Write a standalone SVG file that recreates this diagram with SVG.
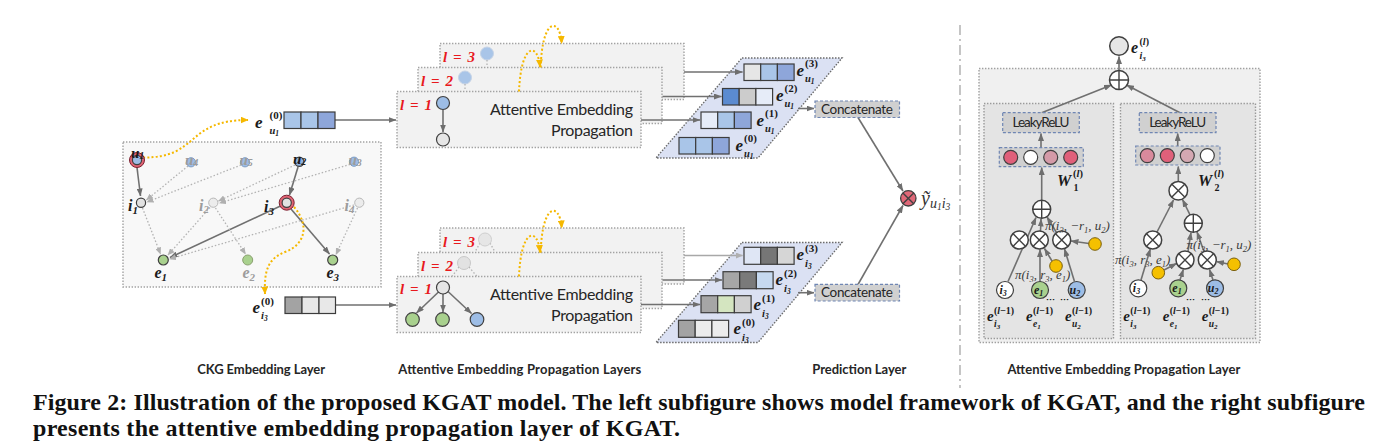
<svg xmlns="http://www.w3.org/2000/svg" width="1379" height="447" viewBox="0 0 1379 447">
<defs>
<style>
.bx{fill:#f2f2f2;stroke:#a3a3a3;stroke-width:1.4;stroke-dasharray:1.4 1.6}
.ckb{fill:#f8f8f8;stroke:#a3a3a3;stroke-width:1.4;stroke-dasharray:1.4 1.6}
.pg{fill:#dbe1f3;stroke:#6b6b6b;stroke-width:1.4;stroke-dasharray:1.5 1.5}
.ob{fill:#f0f0f0;stroke:#a0a0a0;stroke-width:1.4;stroke-dasharray:1.4 1.6}
.ib{fill:#e4e4e4;stroke:#9a9a9a;stroke-width:1.4;stroke-dasharray:1.4 1.6}
.cat{fill:#d0d0d0;stroke:#6f86b3;stroke-width:1.2;stroke-dasharray:3 2}
.ln{fill:none;stroke:#707070;stroke-width:1.6}
.lt{fill:none;stroke:#a8a8a8;stroke-width:1.4}
.dl{fill:none;stroke:#b3b3b3;stroke-width:1.3;stroke-dasharray:1.5 2}
.yl{fill:none;stroke:#f5b800;stroke-width:2;stroke-dasharray:2 2.2}
.c{stroke:#3c3c3c;stroke-width:1.2}
.nd{stroke:#404040;stroke-width:1.2}
.op{fill:#fff;stroke:#404040;stroke-width:1.5}
.x{fill:none;stroke:#404040;stroke-width:1.4}
.sans{font-family:Lato,"Liberation Sans",sans-serif;fill:#262626}
.m{font-family:"Liberation Serif","DejaVu Serif",serif;font-weight:bold;font-style:italic;fill:#1a1a1a}
.g{fill:#9c9c9c}
.up{font-style:normal}
.red{fill:#e8191d}
.pi{font-family:"Liberation Serif","DejaVu Serif",serif;font-style:italic;fill:#3a3a3a;font-size:13px}
.cap{font-family:"Liberation Serif","DejaVu Serif",serif;font-weight:bold;font-size:24px;fill:#111}
.lab{font-family:Lato,"Liberation Sans",sans-serif;font-weight:bold;font-size:13px;fill:#262626}
</style>
<marker id="ag" markerWidth="8" markerHeight="6" refX="7.5" refY="3" orient="auto" markerUnits="userSpaceOnUse"><path d="M0,0 L8,3 L0,6 z" fill="#6e6e6e"/></marker>
<marker id="al" markerWidth="7" markerHeight="6" refX="6.5" refY="3" orient="auto" markerUnits="userSpaceOnUse"><path d="M0,0 L7,3 L0,6 z" fill="#b0b0b0"/></marker>
<marker id="ay" markerWidth="8" markerHeight="7" refX="7.5" refY="3.5" orient="auto" markerUnits="userSpaceOnUse"><path d="M0,0 L8,3.5 L0,7 z" fill="#f5b800"/></marker>
</defs>
<rect width="1379" height="447" fill="#ffffff"/>

<!-- background panels -->
<g id="ckg-panel"><rect class="ckb" x="123" y="142" width="258" height="145"/></g>

<g id="prop-u-l3">
<rect class="bx" x="440" y="43.5" width="244" height="56"/>
<text class="m red" x="443" y="62" font-size="15" textLength="32">l = 3</text>
<circle cx="487" cy="53.5" r="6.5" fill="#a9c5e8" stroke="#c5d3e6"/>
<path d="M487,60 L487,67" class="dl"/>
</g>
<g id="prop-u-l2">
<rect class="bx" x="418" y="67.5" width="244" height="56"/>
<text class="m red" x="421" y="85.5" font-size="15" textLength="32">l = 2</text>
<circle cx="465" cy="77.5" r="6.5" fill="#a9c5e8" stroke="#c5d3e6"/>
<path d="M465,84 L465,91" class="dl"/>
</g>
<g id="prop-u-l1">
<rect class="bx" x="397" y="91.5" width="244" height="56"/>
<text class="m red" x="400" y="109.5" font-size="15" textLength="32">l = 1</text>
<path d="M443,109.5 L443,132" class="ln" marker-end="url(#ag)"/>
<circle cx="443" cy="103" r="6.5" fill="#9dbde6" class="nd"/>
<circle cx="443" cy="139.5" r="6.5" fill="#e6e6e6" class="nd"/>
<text class="sans" x="633" y="115" font-size="16" text-anchor="end" textLength="143">Attentive Embedding</text>
<text class="sans" x="633" y="136" font-size="16" text-anchor="end" textLength="82">Propagation</text>
</g>

<g id="prop-i-l3">
<rect class="bx" x="440" y="228" width="244" height="56"/>
<text class="m red" x="443" y="246.5" font-size="15" textLength="32">l = 3</text>
<path d="M480,243 L475,252 M490,243 L495,252" class="dl"/>
<circle cx="485" cy="239.5" r="6.5" fill="#e6e6e6" stroke="#cfcfcf"/>
</g>
<g id="prop-i-l2">
<rect class="bx" x="418" y="252.5" width="244" height="56"/>
<text class="m red" x="421" y="270.5" font-size="15" textLength="32">l = 2</text>
<path d="M459,267 L452,276.5 M469,267 L477,276.5" class="dl"/>
<circle cx="464" cy="263" r="6.5" fill="#e2e2e2" stroke="#c8c8c8"/>
</g>
<g id="prop-i-l1">
<rect class="bx" x="397" y="276.5" width="244" height="56"/>
<text class="m red" x="400" y="293.5" font-size="15" textLength="32">l = 1</text>
<path d="M438.5,292 L416.5,313" class="ln" marker-end="url(#ag)"/>
<path d="M443,294 L443,312" class="ln" marker-end="url(#ag)"/>
<path d="M448,291.5 L471.5,313.5" class="ln" marker-end="url(#ag)"/>
<circle cx="443" cy="287.5" r="6.5" fill="#e6e6e6" class="nd"/>
<circle cx="412.5" cy="319.5" r="6.8" fill="#a9d18e" class="nd"/>
<circle cx="442.5" cy="319.5" r="6.8" fill="#a9d18e" class="nd"/>
<circle cx="477" cy="319.5" r="6.8" fill="#9dbde6" class="nd"/>
<text class="sans" x="633" y="300" font-size="16" text-anchor="end" textLength="143">Attentive Embedding</text>
<text class="sans" x="633" y="321" font-size="16" text-anchor="end" textLength="82">Propagation</text>
</g>

<g id="stack-u"><polygon class="pg" points="742,58 842,58 758,158 656,158"/></g>
<g id="stack-i"><polygon class="pg" points="742,242.5 842,242.5 758,342.5 656,342.5"/></g>

<g id="aep-panel">
<rect class="ob" x="979" y="68.5" width="281" height="274"/>
<rect class="ib" x="984" y="103.5" width="129.5" height="235"/>
<rect class="ib" x="1120.5" y="103.5" width="135" height="235"/>
</g>

<g id="divider"><path d="M960,25 L960,388" fill="none" stroke="#a6a6a6" stroke-width="1.3" stroke-dasharray="10 4 2 4"/></g>

<!-- connectors -->
<g id="connectors">
<path class="ln" d="M137,167.5 L140.5,196" marker-end="url(#ag)"/>
<path class="ln" d="M298,167 L289.5,195" marker-end="url(#ag)"/>
<path class="ln" d="M280.5,206 L170,257.5" marker-end="url(#ag)"/>
<path class="ln" d="M291,209 L329.5,254" marker-end="url(#ag)"/>
<path class="dl" d="M188,166 L146.5,200" marker-end="url(#al)"/>
<path class="dl" d="M241,165 L147,202" marker-end="url(#al)"/>
<path class="dl" d="M295,165 L218.5,201" marker-end="url(#al)"/>
<path class="dl" d="M350,164.5 L219.5,203" marker-end="url(#al)"/>
<path class="dl" d="M142.5,208 L160.5,254" marker-end="url(#al)"/>
<path class="dl" d="M210,207.5 L168,255" marker-end="url(#al)"/>
<path class="dl" d="M215.5,208 L245.5,254" marker-end="url(#al)"/>
<path class="dl" d="M354,205 L169.5,259" marker-end="url(#al)"/>
<path class="dl" d="M357.5,208 L336,254.5" marker-end="url(#al)"/>
<path class="yl" d="M143,157.5 C200,158 185,120 248,120" marker-end="url(#ay)"/>
<path class="yl" d="M294,207 C310,225 305,245 285,252 C268,259 264,270 265,294" marker-end="url(#ay)"/>
<path class="yl" d="M519,91.5 C521,42 538,42 540,67" marker-end="url(#ay)"/>
<path class="yl" d="M540.7,67.5 C542,17 560,17 561.7,43.5" marker-end="url(#ay)"/>
<path class="yl" d="M519,276.5 C521,227 538,227 540,252.5" marker-end="url(#ay)"/>
<path class="yl" d="M540.7,252.5 C542,202 560,202 561.7,228" marker-end="url(#ay)"/>
<path class="ln" d="M335,120 L396,120" marker-end="url(#ag)"/>
<path class="ln" d="M335,305 L396,305" marker-end="url(#ag)"/>
<path class="ln" d="M684,72 L742.5,72" marker-end="url(#ag)"/>
<path class="ln" d="M662.5,96.5 L721.5,96.5" marker-end="url(#ag)"/>
<path class="ln" d="M641,120 L700,120" marker-end="url(#ag)"/>
<path class="lt" d="M684,255.5 L742.5,255.5" marker-end="url(#al)"/>
<path class="ln" d="M662.5,280 L722,280" marker-end="url(#ag)"/>
<path class="ln" d="M641,304.5 L700,304.5" marker-end="url(#ag)"/>
<path class="ln" d="M798,108.5 L814,108.5" marker-end="url(#ag)"/>
<path class="ln" d="M798,292.7 L814,292.7" marker-end="url(#ag)"/>
<path class="ln" d="M858,117.5 L903,191" marker-end="url(#ag)"/>
<path class="ln" d="M858,284.5 L903,205.5" marker-end="url(#ag)"/>
<path class="ln" d="M1119,70 L1119,56.5" marker-end="url(#ag)"/>
<path class="ln" d="M1041.7,112.7 L1111.5,85" marker-end="url(#ag)"/>
<path class="ln" d="M1180,112.7 L1126.5,85" marker-end="url(#ag)"/>
<path class="ln" d="M1041,147.5 L1041,133.5" marker-end="url(#ag)"/>
<path class="ln" d="M1177.7,146 L1177.7,133.5" marker-end="url(#ag)"/>
<path class="ln" d="M1041.7,200 L1041.7,167.5" marker-end="url(#ag)"/>
<path class="ln" d="M1008,281.5 L1036,217.5" marker-end="url(#ag)"/>
<path class="ln" d="M1040,281.5 L1040,249.5" marker-end="url(#ag)"/>
<path class="ln" d="M1040.5,231 L1041,219" marker-end="url(#ag)"/>
<path class="ln" d="M1074.5,281.5 L1064.5,249" marker-end="url(#ag)"/>
<path class="ln" d="M1056.5,232.5 L1047,217" marker-end="url(#ag)"/>
<path class="ln" d="M1089,243.5 L1071,241" marker-end="url(#ag)"/>
<path class="ln" d="M1052,261 L1044.5,248.5" marker-end="url(#ag)"/>
<path class="ln" d="M1178.3,181 L1178.3,166.5" marker-end="url(#ag)"/>
<path class="ln" d="M1141,280 L1150.3,249" marker-end="url(#ag)"/>
<path class="ln" d="M1157,232 L1173.5,200" marker-end="url(#ag)"/>
<path class="ln" d="M1180,280 L1183.3,269.5" marker-end="url(#ag)"/>
<path class="ln" d="M1213,280 L1209.5,269.5" marker-end="url(#ag)"/>
<path class="ln" d="M1188,251.5 L1191,232.5" marker-end="url(#ag)"/>
<path class="ln" d="M1204,251.5 L1197,232" marker-end="url(#ag)"/>
<path class="ln" d="M1190,214.8 L1182.5,199.5" marker-end="url(#ag)"/>
<path class="ln" d="M1164,270 L1176.5,263.5" marker-end="url(#ag)"/>
<path class="ln" d="M1228,264 L1216.5,261.5" marker-end="url(#ag)"/>
</g>

<!-- CKG nodes -->
<g id="node-u1"><circle cx="137" cy="160" r="7.5" fill="#e06474" stroke="#7a2030" stroke-width="1"/><circle cx="137" cy="160" r="4.6" fill="#9dbde6" class="nd"/><text class="m" x="131" y="158" font-size="15">u<tspan font-size="10" dy="1">1</tspan></text></g>
<g id="node-u4"><circle cx="191" cy="162.3" r="4.6" fill="#9dbde6" stroke="#7d9cc4"/><text class="m g" x="185" y="165" font-size="15">u<tspan font-size="10" dy="1">4</tspan></text></g>
<g id="node-u5"><circle cx="245" cy="162.3" r="4.6" fill="#9dbde6" stroke="#7d9cc4"/><text class="m g" x="239.5" y="165" font-size="15">u<tspan font-size="10" dy="1">5</tspan></text></g>
<g id="node-u2"><circle cx="299.3" cy="161.7" r="4.6" fill="#8fb1df" class="nd"/><text class="m" x="293" y="164" font-size="15">u<tspan font-size="10" dy="1">2</tspan></text></g>
<g id="node-u3"><circle cx="354" cy="161.7" r="4.6" fill="#9dbde6" stroke="#7d9cc4"/><text class="m g" x="348.5" y="165" font-size="15">u<tspan font-size="10" dy="1">3</tspan></text></g>
<g id="node-i1"><circle cx="141" cy="202.7" r="4.6" fill="#e2e2e2" class="nd"/><text class="m" x="128" y="211" font-size="16">i<tspan font-size="11" dy="3">1</tspan></text></g>
<g id="node-i2"><circle cx="213.3" cy="202.7" r="4.6" fill="#ececec" stroke="#b8b8b8"/><text class="m g" x="199" y="211" font-size="16">i<tspan font-size="11" dy="2">2</tspan></text></g>
<g id="node-i3"><text class="m" x="264" y="212" font-size="16">i<tspan font-size="11" dy="3">3</tspan></text><circle cx="286.7" cy="202.7" r="7.5" fill="#e06474" stroke="#7a2030" stroke-width="1"/><circle cx="286.7" cy="202.7" r="4.6" fill="#e2e2e2" class="nd"/></g>
<g id="node-i4"><circle cx="359.3" cy="202.7" r="4.6" fill="#ececec" stroke="#b8b8b8"/><text class="m g" x="344.5" y="211" font-size="16">i<tspan font-size="11" dy="2">4</tspan></text></g>
<g id="node-e1"><circle cx="163.3" cy="260" r="5" fill="#a9d18e" class="nd"/><text class="m" x="154.5" y="278" font-size="16">e<tspan font-size="11" dy="3">1</tspan></text></g>
<g id="node-e2"><circle cx="247.7" cy="260" r="5" fill="#a9d18e" stroke="#8aa070"/><text class="m g" x="242.5" y="278" font-size="16">e<tspan font-size="11" dy="3">2</tspan></text></g>
<g id="node-e3"><circle cx="332.7" cy="260" r="5" fill="#a9d18e" class="nd"/><text class="m" x="326.5" y="278" font-size="16">e<tspan font-size="11" dy="3">3</tspan></text></g>

<!-- initial embeddings -->
<g id="emb-u1-0">
<text class="m" x="255" y="128" font-size="17">e</text><text class="m up" x="269.5" y="118.5" font-size="11">(0)</text><text class="m" x="269.5" y="133.5" font-size="10.5">u<tspan font-size="7.5" dy="2">1</tspan></text>
<rect class="c" x="284" y="112" width="17" height="16.5" fill="#a9c5e8"/><rect class="c" x="301" y="112" width="17" height="16.5" fill="#a9c5e8"/><rect class="c" x="318" y="112" width="17" height="16.5" fill="#8ea6da"/>
</g>
<g id="emb-i3-0">
<text class="m" x="252.5" y="313" font-size="17">e</text><text class="m up" x="261" y="305" font-size="11">(0)</text><text class="m" x="261" y="318.5" font-size="10.5">i<tspan font-size="7.5" dy="2">3</tspan></text>
<rect class="c" x="285" y="297" width="17" height="16.5" fill="#a3a3a3"/><rect class="c" x="302" y="297" width="17" height="16.5" fill="#e8e8e8"/><rect class="c" x="319" y="297" width="16.5" height="16.5" fill="#e8e8e8"/>
</g>

<!-- layer outputs (user) -->
<g id="emb-u1-3"><rect class="c" x="744" y="64" width="16.7" height="16.5" fill="#e6e6e6"/><rect class="c" x="760.7" y="64" width="16.7" height="16.5" fill="#a9c5e8"/><rect class="c" x="777.4" y="64" width="16.7" height="16.5" fill="#8ea6da"/>
<text class="m" x="796.5" y="75.5" font-size="17">e</text><text class="m up" x="805" y="67" font-size="11">(3)</text><text class="m" x="805" y="81.5" font-size="10.5">u<tspan font-size="7.5" dy="2">1</tspan></text></g>
<g id="emb-u1-2"><rect class="c" x="722.5" y="88.5" width="16.7" height="16.5" fill="#5b8bd0"/><rect class="c" x="739.2" y="88.5" width="16.7" height="16.5" fill="#cccccc"/><rect class="c" x="755.9" y="88.5" width="16.7" height="16.5" fill="#e6ecf8"/>
<text class="m" x="776" y="100.5" font-size="17">e</text><text class="m up" x="784.5" y="92" font-size="11">(2)</text><text class="m" x="784.5" y="106.5" font-size="10.5">u<tspan font-size="7.5" dy="2">1</tspan></text></g>
<g id="emb-u1-1"><rect class="c" x="701" y="112" width="16.7" height="16.5" fill="#e6ecf8"/><rect class="c" x="717.7" y="112" width="16.7" height="16.5" fill="#a9c5e8"/><rect class="c" x="734.4" y="112" width="16.7" height="16.5" fill="#8ea6da"/>
<text class="m" x="756.5" y="125.5" font-size="17">e</text><text class="m up" x="765" y="117" font-size="11">(1)</text><text class="m" x="765" y="131.5" font-size="10.5">u<tspan font-size="7.5" dy="2">1</tspan></text></g>
<g id="emb-u1-0b"><rect class="c" x="679" y="137.5" width="16.7" height="16.5" fill="#a9c5e8"/><rect class="c" x="695.7" y="137.5" width="16.7" height="16.5" fill="#a9c5e8"/><rect class="c" x="712.4" y="137.5" width="16.7" height="16.5" fill="#8ea6da"/>
<text class="m" x="735.5" y="150.5" font-size="17">e</text><text class="m up" x="744" y="142" font-size="11">(0)</text><text class="m" x="744" y="156.5" font-size="10.5">u<tspan font-size="7.5" dy="2">1</tspan></text></g>

<!-- layer outputs (item) -->
<g id="emb-i3-3"><rect class="c" x="744" y="247.3" width="16.7" height="17" fill="#dfe6f5"/><rect class="c" x="760.7" y="247.3" width="16.7" height="17" fill="#767676"/><rect class="c" x="777.4" y="247.3" width="16.7" height="17" fill="#d6d6d6"/>
<text class="m" x="796.5" y="260" font-size="17">e</text><text class="m up" x="805" y="252" font-size="11">(3)</text><text class="m" x="805" y="266.5" font-size="10.5">i<tspan font-size="7.5" dy="2">3</tspan></text></g>
<g id="emb-i3-2"><rect class="c" x="723" y="271.7" width="16.7" height="17" fill="#a6a6a6"/><rect class="c" x="739.7" y="271.7" width="16.7" height="17" fill="#7a7a7a"/><rect class="c" x="756.4" y="271.7" width="16.7" height="17" fill="#c6d9f0"/>
<text class="m" x="775.5" y="285" font-size="17">e</text><text class="m up" x="784" y="277" font-size="11">(2)</text><text class="m" x="784" y="291.5" font-size="10.5">i<tspan font-size="7.5" dy="2">3</tspan></text></g>
<g id="emb-i3-1"><rect class="c" x="701" y="295.7" width="16.7" height="17" fill="#a6a6a6"/><rect class="c" x="717.7" y="295.7" width="16.7" height="17" fill="#d4e5c0"/><rect class="c" x="734.4" y="295.7" width="16.7" height="17" fill="#d0d0d0"/>
<text class="m" x="753.5" y="310" font-size="17">e</text><text class="m up" x="762" y="302" font-size="11">(1)</text><text class="m" x="762" y="316.5" font-size="10.5">i<tspan font-size="7.5" dy="2">3</tspan></text></g>
<g id="emb-i3-0b"><rect class="c" x="678.5" y="320.3" width="16.7" height="17" fill="#a3a3a3"/><rect class="c" x="695.2" y="320.3" width="16.7" height="17" fill="#ececec"/><rect class="c" x="711.9" y="320.3" width="16.7" height="17" fill="#ececec"/>
<text class="m" x="733.5" y="334" font-size="17">e</text><text class="m up" x="742" y="326" font-size="11">(0)</text><text class="m" x="742" y="340.5" font-size="10.5">i<tspan font-size="7.5" dy="2">3</tspan></text></g>

<!-- concatenate and prediction -->
<g id="concat-u"><rect class="cat" x="815" y="101" width="84.5" height="16.5"/><text class="sans" x="857" y="113.8" font-size="13.5" text-anchor="middle" textLength="72">Concatenate</text></g>
<g id="concat-i"><rect class="cat" x="815" y="284.3" width="84.5" height="16.7"/><text class="sans" x="857" y="297.2" font-size="13.5" text-anchor="middle" textLength="72">Concatenate</text></g>
<g id="predict"><circle cx="908.3" cy="198.3" r="7.7" fill="#e06878" stroke="#404040" stroke-width="1.3"/><path class="x" d="M902.9,192.9 L913.7,203.7 M902.9,203.7 L913.7,192.9"/>
<text font-family="'Liberation Serif','DejaVu Serif',serif" font-style="italic" font-size="20" fill="#333" x="921" y="204.5">ỹ<tspan font-size="14" dy="3">u</tspan><tspan font-size="9.5" dy="2">1</tspan><tspan font-size="14" dy="-2">i</tspan><tspan font-size="9.5" dy="2">3</tspan></text></g>

<!-- right panel nodes -->
<g id="aep-out"><circle cx="1119" cy="46" r="9.3" fill="#e6e6e6" stroke="#404040" stroke-width="1.5"/>
<text class="m" x="1131" y="53" font-size="16">e</text><text class="m up" x="1139.5" y="45" font-size="10">(<tspan font-style="italic">l</tspan>)</text><text class="m" x="1139.5" y="59" font-size="10">i<tspan font-size="7" dy="2">3</tspan></text></g>
<g id="aep-sum"><circle class="op" cx="1119" cy="80" r="9.5"/><path class="x" d="M1109.5,80 L1128.5,80 M1119,70.5 L1119,89.5"/></g>
<g id="leaky-1"><rect class="cat" x="1002.7" y="112.7" width="76.6" height="20"/><text class="sans" x="1041" y="127.3" font-size="13.5" text-anchor="middle" textLength="57">LeakyReLU</text></g>
<g id="leaky-2"><rect class="cat" x="1139.3" y="112.7" width="76.7" height="20"/><text class="sans" x="1177.7" y="127.3" font-size="13.5" text-anchor="middle" textLength="57">LeakyReLU</text></g>
<g id="w1-out"><rect class="cat" x="999.3" y="147.7" width="84" height="19"/>
<circle cx="1010.7" cy="157.3" r="7" fill="#e0607a" class="nd"/><circle cx="1030.7" cy="157.3" r="7" fill="#ffffff" class="nd"/><circle cx="1050.7" cy="157.3" r="7" fill="#d49aa8" class="nd"/><circle cx="1070.7" cy="157.3" r="7" fill="#e0607a" class="nd"/></g>
<g id="w2-out"><rect class="cat" x="1135.7" y="146" width="84.3" height="19"/>
<circle cx="1147.3" cy="155.6" r="7" fill="#d98a9c" class="nd"/><circle cx="1167.3" cy="155.6" r="7" fill="#e0607a" class="nd"/><circle cx="1187.3" cy="155.6" r="7" fill="#d4a8b2" class="nd"/><circle cx="1207.3" cy="155.6" r="7" fill="#ffffff" class="nd"/></g>

<g id="left-agg">
<text class="m" x="1057" y="186" font-size="16">W</text><text class="m up" x="1073" y="177" font-size="10.5">(<tspan font-style="italic">l</tspan>)</text><text class="m up" x="1073.5" y="191" font-size="10">1</text>
<circle class="op" cx="1041.7" cy="209.3" r="9"/><path class="x" d="M1032.7,209.3 L1050.7,209.3 M1041.7,200.3 L1041.7,218.3"/>
<circle class="op" cx="1019.3" cy="240" r="9"/><path class="x" d="M1012.9,233.6 L1025.7,246.4 M1012.9,246.4 L1025.7,233.6"/>
<circle class="op" cx="1039.3" cy="240" r="9"/><path class="x" d="M1032.9,233.6 L1045.7,246.4 M1032.9,246.4 L1045.7,233.6"/>
<circle class="op" cx="1061.7" cy="240" r="9"/><path class="x" d="M1055.3,233.6 L1068.1,246.4 M1055.3,246.4 L1068.1,233.6"/>
<circle cx="1095" cy="244" r="6.3" fill="#f5c000" stroke="#7a6010" stroke-width="1"/>
<circle cx="1056" cy="266" r="6.3" fill="#f5c000" stroke="#7a6010" stroke-width="1"/>
<text class="pi" x="1045" y="230">π(i<tspan font-size="8.5" dy="3">3</tspan><tspan dy="-3">, −r</tspan><tspan font-size="8.5" dy="3">1</tspan><tspan dy="-3">, u</tspan><tspan font-size="8.5" dy="3">2</tspan><tspan dy="-3">)</tspan></text>
<text class="pi" x="1015" y="278.5">π(i<tspan font-size="8.5" dy="3">3</tspan><tspan dy="-3">, r</tspan><tspan font-size="8.5" dy="3">3</tspan><tspan dy="-3">, e</tspan><tspan font-size="8.5" dy="3">1</tspan><tspan dy="-3">)</tspan></text>
<circle cx="1005" cy="290" r="8.5" fill="#ffffff" class="nd"/><text class="m" x="999.5" y="294" font-size="12">i<tspan font-size="8" dy="2">3</tspan></text>
<circle cx="1040" cy="290" r="8.5" fill="#a9d18e" class="nd"/><text class="m" x="1034" y="294" font-size="12">e<tspan font-size="8" dy="2">1</tspan></text>
<circle cx="1076.7" cy="290" r="8.5" fill="#9dbde6" class="nd"/><text class="m" x="1069.5" y="294" font-size="12">u<tspan font-size="8" dy="2">2</tspan></text>
<text class="m" x="987" y="321" font-size="15">e</text><text class="m up" x="994" y="313.5" font-size="10">(<tspan font-style="italic">l</tspan>−1)</text><text class="m" x="994" y="327" font-size="9.5">i<tspan font-size="7" dy="2">3</tspan></text>
<text class="m" x="1026" y="321" font-size="15">e</text><text class="m up" x="1033" y="313.5" font-size="10">(<tspan font-style="italic">l</tspan>−1)</text><text class="m" x="1033" y="327" font-size="9.5">e<tspan font-size="7" dy="2">1</tspan></text>
<text class="m" x="1065" y="321" font-size="15">e</text><text class="m up" x="1072" y="313.5" font-size="10">(<tspan font-style="italic">l</tspan>−1)</text><text class="m" x="1072" y="327" font-size="9.5">u<tspan font-size="7" dy="2">2</tspan></text>
<text class="m up" font-size="9"><tspan x="1046" y="302">···</tspan><tspan x="1060" y="302">···</tspan></text>
</g>

<g id="right-agg">
<circle class="op" cx="1178.3" cy="190.7" r="9.3"/><path class="x" d="M1171.9,184.3 L1184.7,197.1 M1171.9,197.1 L1184.7,184.3"/>
<text class="m" x="1198" y="186" font-size="16">W</text><text class="m up" x="1214" y="177" font-size="10.5">(<tspan font-style="italic">l</tspan>)</text><text class="m up" x="1214.5" y="191" font-size="10">2</text>
<circle class="op" cx="1193.3" cy="223.3" r="9"/><path class="x" d="M1184.3,223.3 L1202.3,223.3 M1193.3,214.3 L1193.3,232.3"/>
<circle class="op" cx="1152.7" cy="240" r="9"/><path class="x" d="M1146.3,233.6 L1159.1,246.4 M1146.3,246.4 L1159.1,233.6"/>
<circle class="op" cx="1185" cy="260" r="9"/><path class="x" d="M1178.6,253.6 L1191.4,266.4 M1178.6,266.4 L1191.4,253.6"/>
<circle class="op" cx="1207.3" cy="260" r="9"/><path class="x" d="M1200.9,253.6 L1213.7,266.4 M1200.9,266.4 L1213.7,253.6"/>
<circle cx="1158.3" cy="272.7" r="6.3" fill="#f5c000" stroke="#7a6010" stroke-width="1"/>
<circle cx="1234" cy="264.3" r="6.3" fill="#f5c000" stroke="#7a6010" stroke-width="1"/>
<text class="pi" x="1186.5" y="249">π(i<tspan font-size="8.5" dy="3">3</tspan><tspan dy="-3">, −r</tspan><tspan font-size="8.5" dy="3">1</tspan><tspan dy="-3">, u</tspan><tspan font-size="8.5" dy="3">2</tspan><tspan dy="-3">)</tspan></text>
<text class="pi" x="1115" y="263.5">π(i<tspan font-size="8.5" dy="3">3</tspan><tspan dy="-3">, r</tspan><tspan font-size="8.5" dy="3">3</tspan><tspan dy="-3">, e</tspan><tspan font-size="8.5" dy="3">1</tspan><tspan dy="-3">)</tspan></text>
<circle cx="1138.3" cy="288.3" r="8.5" fill="#ffffff" class="nd"/><text class="m" x="1132.8" y="292.3" font-size="12">i<tspan font-size="8" dy="2">3</tspan></text>
<circle cx="1178.3" cy="288.3" r="8.5" fill="#a9d18e" class="nd"/><text class="m" x="1172.3" y="292.3" font-size="12">e<tspan font-size="8" dy="2">1</tspan></text>
<circle cx="1215" cy="288.3" r="8.5" fill="#9dbde6" class="nd"/><text class="m" x="1207.8" y="292.3" font-size="12">u<tspan font-size="8" dy="2">2</tspan></text>
<text class="m" x="1123.3" y="321" font-size="15">e</text><text class="m up" x="1130.3" y="313.5" font-size="10">(<tspan font-style="italic">l</tspan>−1)</text><text class="m" x="1130.3" y="327" font-size="9.5">i<tspan font-size="7" dy="2">3</tspan></text>
<text class="m" x="1162.7" y="321" font-size="15">e</text><text class="m up" x="1169.7" y="313.5" font-size="10">(<tspan font-style="italic">l</tspan>−1)</text><text class="m" x="1169.7" y="327" font-size="9.5">e<tspan font-size="7" dy="2">1</tspan></text>
<text class="m" x="1201.7" y="321" font-size="15">e</text><text class="m up" x="1208.7" y="313.5" font-size="10">(<tspan font-style="italic">l</tspan>−1)</text><text class="m" x="1208.7" y="327" font-size="9.5">u<tspan font-size="7" dy="2">2</tspan></text>
<text class="m up" font-size="9"><tspan x="1186" y="302">···</tspan><tspan x="1201" y="302">···</tspan></text>
</g>

<!-- section labels and caption -->
<g id="labels">
<text class="lab" x="197.3" y="373.5" textLength="127.7">CKG Embedding Layer</text>
<text class="lab" x="398.3" y="373.5" textLength="243">Attentive Embedding Propagation Layers</text>
<text class="lab" x="812.3" y="373.5" textLength="94">Prediction Layer</text>
<text class="lab" x="1007.4" y="373.5" textLength="233">Attentive Embedding Propagation Layer</text>
<text class="cap" x="33" y="410" textLength="1332">Figure 2: Illustration of the proposed KGAT model. The left subfigure shows model framework of KGAT, and the right subfigure</text>
<text class="cap" x="33" y="436" textLength="647">presents the attentive embedding propagation layer of KGAT.</text>
</g>
</svg>
